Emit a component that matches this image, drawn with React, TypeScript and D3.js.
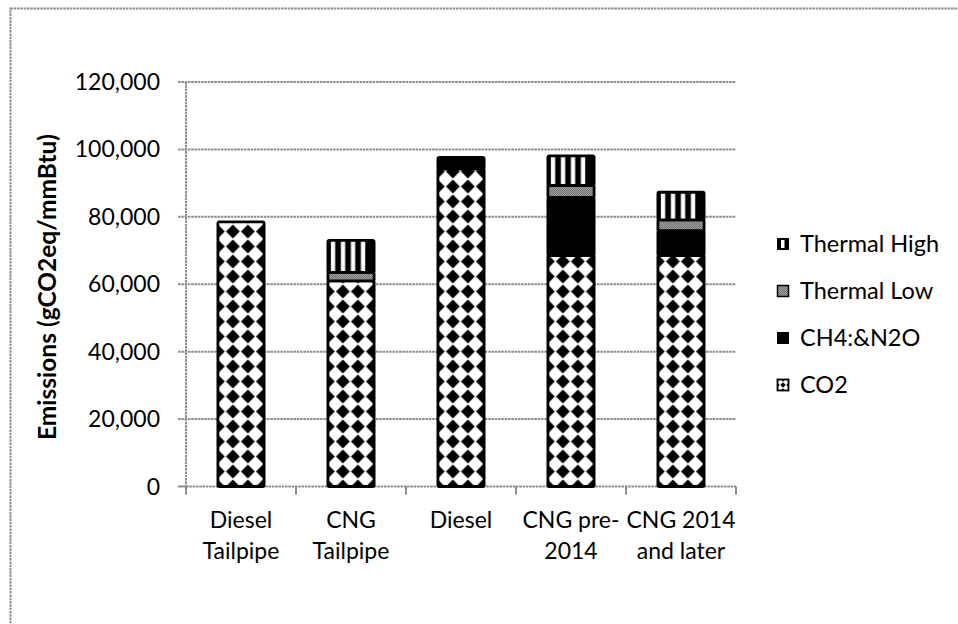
import React from 'react';
import * as d3 from 'd3';

const categoryKeys = ['Diesel Tailpipe', 'CNG Tailpipe', 'Diesel', 'CNG pre-2014', 'CNG 2014 and later'];
const categoryLines = [['Diesel', 'Tailpipe'], ['CNG', 'Tailpipe'], ['Diesel'], ['CNG pre-', '2014'], ['CNG 2014', 'and later']];
const co2 = [78500, 61000, 94200, 68500, 68500];
const ch4n2o = [0, 0, 3400, 17300, 7400];
const thermalLow = [0, 2500, 0, 3500, 3200];
const thermalHigh = [0, 9500, 0, 8800, 8200];
const seriesKeys = ['CO2', 'CH4:&N2O', 'Thermal Low', 'Thermal High'];
const legendOrder = ['Thermal High', 'Thermal Low', 'CH4:&N2O', 'CO2'];
const yTicks = [0, 20000, 40000, 60000, 80000, 100000, 120000];

const W = 958;
const H = 624;
const FONT = 'Lato, "Open Sans", sans-serif';
const GRID = '#8c8c8c';

export default function App() {
  const rows = categoryKeys.map((c, i) => ({
    cat: c,
    'CO2': co2[i],
    'CH4:&N2O': ch4n2o[i],
    'Thermal Low': thermalLow[i],
    'Thermal High': thermalHigh[i],
  }));
  const stacked = d3.stack<any>().keys(seriesKeys)(rows);

  const x = d3.scaleBand<string>().domain(categoryKeys).range([186, 736]).paddingInner(0.58).paddingOuter(0.29);
  const y = d3.scaleLinear().domain([0, 120000]).range([486.5, 82]);
  const bw = x.bandwidth();
  const fmt = d3.format(',');

  const fillFor = (key: string, i: number) => {
    if (key === 'CO2') return `url(#co2-${i})`;
    if (key === 'CH4:&N2O') return '#000';
    if (key === 'Thermal Low') return 'url(#tlow)';
    return `url(#thigh-${i})`;
  };

  const legendY = d3.scalePoint<string>().domain(legendOrder).range([244, 385]);

  return (
    <svg width={W} height={H} style={{ position: 'absolute', left: 0, top: 0, background: '#fff' }}>
      <defs>
        <pattern id="tlow" patternUnits="userSpaceOnUse" width={2} height={2}>
          <rect width={2} height={2} fill="#9c9c9c" />
          <rect width={1} height={1} fill="#767676" />
          <rect x={1} y={1} width={1} height={1} fill="#767676" />
        </pattern>
        {categoryKeys.map((c, i) => (
          <pattern key={'co2' + i} id={`co2-${i}`} patternUnits="userSpaceOnUse" width={15} height={15}
            x={(x(c) as number) + 7.5} y={y(0) + 7.5}>
            <rect width={15} height={15} fill="#fff" />
            <path d="M7.5,0.6 L14.4,7.5 L7.5,14.4 L0.6,7.5 Z" fill="#000" />
          </pattern>
        ))}
        {categoryKeys.map((c, i) => (
          <pattern key={'th' + i} id={`thigh-${i}`} patternUnits="userSpaceOnUse" width={bw} height={20}
            x={x(c) as number} y={0}>
            <rect width={bw} height={20} fill="#000" />
            {[0, 1, 2, 3].map((k) => (
              <rect key={k} x={3 + k * 10} y={0} width={4.3} height={20} fill="#fff" />
            ))}
          </pattern>
        ))}
        <pattern id="co2leg" patternUnits="userSpaceOnUse" width={6} height={6} x={780} y={382}>
          <rect width={6} height={6} fill="#fff" />
          <path d="M3,0.3 L5.7,3 L3,5.7 L0.3,3 Z" fill="#000" />
        </pattern>
      </defs>

      {/* outer chart frame */}
      <rect x={10.5} y={8.5} width={1000} height={700} fill="none" stroke={GRID} strokeWidth={2} strokeDasharray="2.5 0.8" />

      {/* gridlines */}
      {yTicks.filter((t) => t > 0).map((t) => (
        <line key={t} x1={178} x2={736} y1={y(t)} y2={y(t)} stroke={GRID} strokeWidth={2} strokeDasharray="2.5 0.8" />
      ))}
      {/* y axis */}
      <line x1={186} x2={186} y1={y(120000)} y2={y(0)} stroke={GRID} strokeWidth={2} strokeDasharray="2.5 0.8" />
      <line x1={178} x2={186} y1={y(0)} y2={y(0)} stroke={GRID} strokeWidth={2} />
      {/* x axis */}
      <line x1={186} x2={736} y1={y(0)} y2={y(0)} stroke={GRID} strokeWidth={2} strokeDasharray="2.5 0.8" />
      {categoryKeys.concat(['__end']).map((c, i) => {
        const xx = i < categoryKeys.length ? (x(c) as number) - x.step() * 0.29 : 736;
        return <line key={'t' + i} x1={xx} x2={xx} y1={y(0)} y2={y(0) + 8} stroke={GRID} strokeWidth={2} />;
      })}

      {/* bars */}
      {stacked.map((s) => (
        <g key={s.key}>
          {s.map((d, i) => {
            const h = y(d[0]) - y(d[1]);
            if (h <= 0) return null;
            return (
              <rect key={i} x={x(categoryKeys[i])} y={y(d[1])} width={bw} height={h}
                fill={fillFor(s.key, i)} stroke="#000" strokeWidth={2.8} rx={1.5} />
            );
          })}
        </g>
      ))}

      {/* y tick labels */}
      {yTicks.map((t) => (
        <text key={t} x={160} y={y(t)} dy="0.35em" textAnchor="end" fontFamily={FONT} fontSize={23} fill="#000">
          {fmt(t)}
        </text>
      ))}

      {/* y title */}
      <text transform={`translate(56,287) rotate(-90)`} textAnchor="middle" fontFamily={FONT} fontSize={24.5}
        fontWeight="bold" fill="#000">
        Emissions (gCO2eq/mmBtu)
      </text>

      {/* x labels */}
      {categoryKeys.map((c, i) => (
        <text key={c} x={(x(c) as number) + bw / 2} y={528} textAnchor="middle" fontFamily={FONT} fontSize={23} fill="#000">
          {categoryLines[i].map((ln, k) => (
            <tspan key={k} x={(x(c) as number) + bw / 2} y={528 + k * 31}>{ln}</tspan>
          ))}
        </text>
      ))}

      {/* legend */}
      {legendOrder.map((k) => {
        const cy = legendY(k) as number;
        return (
          <g key={k}>
            {k === 'Thermal High' && (
              <g>
                <rect x={777} y={cy - 6} width={12} height={12} fill="#000" />
                <rect x={781} y={cy - 4} width={3.5} height={8} fill="#fff" />
              </g>
            )}
            {k === 'Thermal Low' && (
              <rect x={777.5} y={cy - 5.5} width={11} height={11} fill="url(#tlow)" stroke="#000" strokeWidth={1.5} />
            )}
            {k === 'CH4:&N2O' && <rect x={777} y={cy - 6} width={12} height={12} fill="#000" />}
            {k === 'CO2' && (
              <rect x={777.5} y={cy - 5.5} width={11} height={11} fill="url(#co2leg)" stroke="#000" strokeWidth={1.8} />
            )}
            <text x={800} y={cy} dy="0.35em" fontFamily={FONT} fontSize={23.5} fill="#000">{k}</text>
          </g>
        );
      })}
    </svg>
  );
}
